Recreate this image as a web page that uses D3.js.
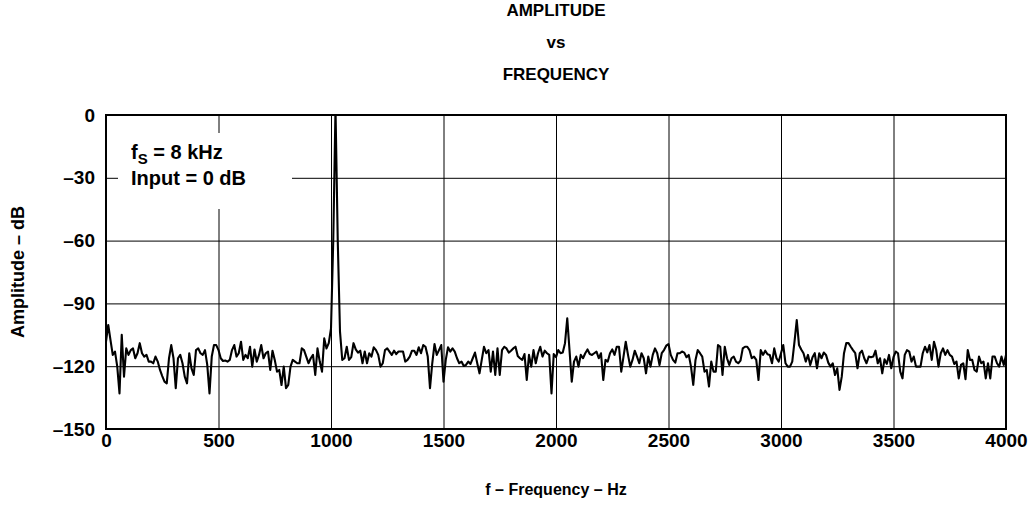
<!DOCTYPE html>
<html>
<head>
<meta charset="utf-8">
<script src="https://cdn.jsdelivr.net/npm/d3@7/dist/d3.min.js"></script>
<style>
  body { margin: 0; background: #fff; }
  text { font-family: "Liberation Sans", Arial, sans-serif; font-weight: bold; fill: #000; }
</style>
</head>
<body>
<div id="chart"></div>
<script>
// FFT bins, 10 Hz apart, 0 .. 4000 Hz (dB)
var binHz = 10;
var ampDb = [
  -108.3,-100.3,-107.5,-114.6,-113,-120.2,-133,-105,-125,-111.5,
  -114.6,-112.3,-111.5,-116.2,-113.8,-109,-113.8,-115.4,-114.6,-117.8,
  -117.8,-118.6,-115.4,-117.8,-121.8,-124.7,-127.4,-128.2,-116.2,-109.9,
  -116.2,-130.5,-116.2,-114.6,-118.6,-125,-128.2,-113.8,-121,-124.2,
  -112.3,-111.5,-113.8,-114.6,-112.3,-119.4,-133,-115.4,-109.9,-109.9,
  -112.3,-116.2,-117.5,-117.3,-117.8,-117,-112.3,-109.9,-115.4,-113.8,
  -108.3,-117,-114.6,-116.2,-110.7,-120.2,-112,-117.8,-114.6,-109.9,
  -116.2,-113.8,-113,-121.8,-112.6,-117,-122.6,-121.8,-129,-120.2,
  -130.5,-128.9,-120.2,-117,-117.8,-118.6,-118.6,-111.5,-112.3,-115.4,
  -118.6,-116.2,-114.6,-124.2,-111.5,-117.8,-122.6,-106.7,-111.5,-109,
  -102,-60,3,-60,-103.5,-117,-116.2,-110.7,-117,-115.7,
  -109,-112,-113.5,-112.6,-118.6,-113,-118.6,-113.8,-115.4,-111,
  -112.3,-114.6,-120.2,-118.6,-112.3,-111.5,-113,-114.6,-112.6,-114.2,
  -113,-113,-113,-117.8,-117,-115.4,-112.6,-112.6,-114.6,-111,
  -113.8,-109.9,-110.7,-115.4,-130.5,-118.6,-109.4,-114.6,-112.3,-109.9,
  -127.4,-117,-111,-113,-111.5,-113,-116.2,-118.6,-117.8,-119.9,
  -119.4,-117.8,-118.9,-116.2,-113.5,-118.6,-123.4,-117,-110.7,-113.8,
  -112.3,-122.6,-113,-124.2,-111.5,-124.2,-112.3,-110.7,-111.5,-113.5,
  -112.6,-111.5,-110.7,-115.1,-116.2,-117,-114.2,-126.6,-114.6,-120.2,
  -112.3,-118.6,-113.8,-110.7,-115.4,-112.6,-113.8,-114.6,-133,-114.2,
  -115.7,-112.3,-113.8,-113.5,-109,-97.1,-112.3,-127.4,-117.8,-115.4,
  -120.2,-114.6,-116.2,-113.8,-112,-114.2,-114.6,-113.8,-113,-116.2,
  -113.8,-126.6,-117,-117.8,-113.8,-112,-114.6,-110.7,-110.7,-122.6,
  -115.4,-108.3,-114.6,-120.2,-117,-112.6,-115.4,-118.6,-113.8,-116.2,
  -123.4,-115.4,-120.2,-114.6,-111.5,-113.8,-119.4,-113.8,-112.3,-110.2,
  -109.4,-114.6,-117,-118.3,-113.8,-113.8,-113,-113.5,-115.7,-114.6,
  -120.2,-128.9,-117,-112.3,-113.8,-115.4,-122.6,-121.8,-129.7,-117.8,
  -122.6,-122.6,-109.9,-110.7,-124.2,-110.7,-116.2,-119.4,-116.2,-115.4,
  -117.8,-118.6,-117.3,-111.5,-110.7,-110.7,-112.3,-116.2,-115.4,-117,
  -126.6,-112.3,-114.6,-112.6,-114.3,-114.6,-118.6,-111.5,-116.2,-117.8,
  -113.8,-109.9,-118.6,-120.2,-120.2,-117.8,-108.3,-98,-109.9,-112,
  -113.8,-117.8,-114.6,-119.4,-115.7,-113.8,-121,-113.8,-116.2,-113.5,
  -114.6,-118.3,-120.2,-118.6,-124.2,-121,-131.3,-125,-113.8,-109,
  -109,-110.7,-112.3,-113.8,-121,-113.8,-112.6,-116.2,-118.6,-115.4,
  -115.7,-115.4,-112.6,-118.6,-116.2,-123.4,-116.7,-118.9,-114.6,-121,
  -115.7,-113,-113.8,-122.6,-125.8,-114.6,-112.3,-113,-117.8,-115.4,
  -120.2,-120.2,-120.2,-113.8,-110.7,-113.4,-109.9,-117,-108.3,-112.3,
  -120.2,-113.8,-111.5,-114.6,-112.3,-114.6,-115.4,-118.9,-117.8,-125.8,
  -119.4,-118.6,-126.2,-112.3,-117,-117,-121.8,-122.6,-115.4,-118.6,
  -117.8,-125.8,-118.6,-125.8,-115.4,-115.4,-118.6,-120.2,-115.4,-119.4,
  -114.6
];
var xTicks = [0, 500, 1000, 1500, 2000, 2500, 3000, 3500, 4000];
var yTicks = [0, -30, -60, -90, -120, -150];
var titleLines = ["AMPLITUDE", "vs", "FREQUENCY"];

// set the dimensions and margins of the graph
var margin = {top: 115, right: 28, bottom: 81, left: 106},
    width = 1034 - margin.left - margin.right,
    height = 510 - margin.top - margin.bottom;

var svg = d3.select("#chart")
  .append("svg")
    .attr("width", 1034)
    .attr("height", 510)
  .append("g")
    .attr("transform", "translate(" + margin.left + "," + margin.top + ")");

var x = d3.scaleLinear().domain([0, 4000]).range([0, width]);
var y = d3.scaleLinear().domain([-150, 0]).range([height, 0]);

function fmt(d) { return d < 0 ? "\u2013" + Math.abs(d) : String(d); }

// grid lines
svg.append("g")
  .attr("class", "grid")
  .attr("transform", "translate(0," + height + ")")
  .call(d3.axisBottom(x).tickValues(xTicks).tickSize(-height).tickFormat(""))
  .call(function(g) { g.select(".domain").remove(); })
  .selectAll("line").attr("stroke", "#000").attr("stroke-width", 1);

svg.append("g")
  .attr("class", "grid")
  .call(d3.axisLeft(y).tickValues(yTicks).tickSize(-width).tickFormat(""))
  .call(function(g) { g.select(".domain").remove(); })
  .selectAll("line").attr("stroke", "#000").attr("stroke-width", 1);

// tick labels
var xAxis = svg.append("g")
  .attr("transform", "translate(0," + height + ")")
  .call(d3.axisBottom(x).tickValues(xTicks).tickSize(0).tickPadding(5).tickFormat(fmt));
xAxis.select(".domain").remove();
xAxis.selectAll("text").style("font-size", "19px").style("font-family", "Liberation Sans, Arial, sans-serif").style("font-weight", "bold");

var yAxis = svg.append("g")
  .call(d3.axisLeft(y).tickValues(yTicks).tickSize(0).tickPadding(11).tickFormat(fmt));
yAxis.select(".domain").remove();
yAxis.selectAll("text").style("font-size", "19px").style("font-family", "Liberation Sans, Arial, sans-serif").style("font-weight", "bold");

// annotation box covers the grid
svg.append("rect")
  .attr("x", 12).attr("y", 18)
  .attr("width", 174).attr("height", 76)
  .attr("fill", "#fff");

var note = svg.append("g").attr("transform", "translate(25,0)");
var t1 = note.append("text").attr("y", 44).style("font-size", "20px");
t1.append("tspan").text("f");
t1.append("tspan").attr("dy", 5).style("font-size", "15px").text("S");
t1.append("tspan").attr("dy", -5).text(" = 8 kHz");
note.append("text").attr("y", 70).style("font-size", "20px").text("Input = 0 dB");

// clip for the trace
svg.append("clipPath").attr("id", "plotClip")
  .append("rect").attr("width", width).attr("height", height);

var line = d3.line()
  .x(function(d, i) { return x(i * binHz); })
  .y(function(d) { return y(d); });

svg.append("path")
  .datum(ampDb)
  .attr("clip-path", "url(#plotClip)")
  .attr("fill", "none")
  .attr("stroke", "#000")
  .attr("stroke-width", 2.1)
  .attr("stroke-linejoin", "round")
  .attr("d", line);

// frame
svg.append("rect")
  .attr("width", width).attr("height", height)
  .attr("fill", "none").attr("stroke", "#000").attr("stroke-width", 2);

// titles
svg.append("g").selectAll("text")
  .data(titleLines)
  .enter()
  .append("text")
    .attr("x", width / 2)
    .attr("y", function(d, i) { return -99 + i * 32; })
    .attr("text-anchor", "middle")
    .style("font-size", "17px")
    .text(function(d) { return d; });

svg.append("text")
  .attr("x", width / 2)
  .attr("y", height + 66)
  .attr("text-anchor", "middle")
  .style("font-size", "16px")
  .text("f \u2013 Frequency \u2013 Hz");

svg.append("text")
  .attr("transform", "rotate(-90)")
  .attr("x", -height / 2)
  .attr("y", -82)
  .attr("text-anchor", "middle")
  .style("font-size", "18px")
  .text("Amplitude \u2013 dB");
</script>
</body>
</html>
